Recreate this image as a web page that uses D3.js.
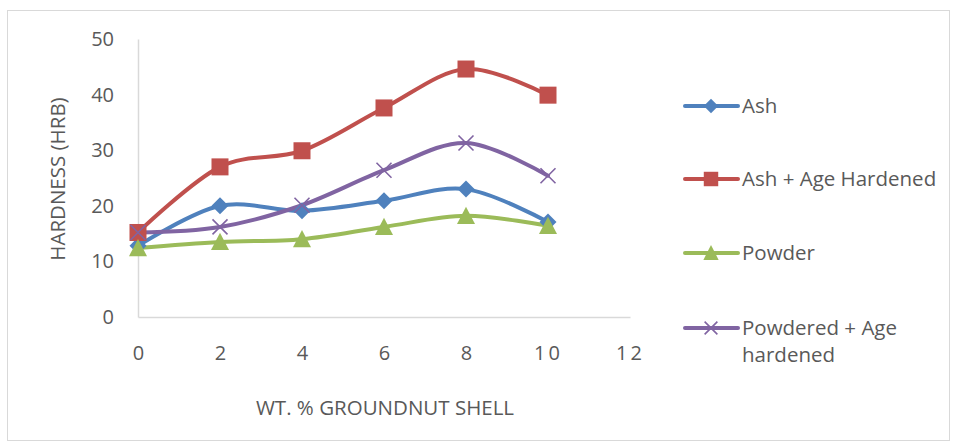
<!DOCTYPE html>
<html>
<head>
<meta charset="utf-8">
<script src="https://cdn.jsdelivr.net/npm/d3@7"></script>
<style>
  html, body { margin: 0; padding: 0; background: #fff; }
  svg { display: block; }
  text { font-family: "Open Sans", "Noto Sans", sans-serif; fill: #595959; }
</style>
</head>
<body>
<svg id="chart" width="956" height="445"></svg>
<script>
// Groundnut shell content (wt. %) and measured hardness (HRB)
const wtPercent = [0, 2, 4, 6, 8, 10];
const ash = [12.8, 20.0, 19.1, 20.9, 23.0, 17.1];
const ashAgeHardened = [15.2, 27.0, 29.9, 37.6, 44.6, 39.9];
const powder = [12.4, 13.5, 14.0, 16.2, 18.2, 16.4];
const powderedAgeHardened = [15.2, 16.2, 20.1, 26.4, 31.3, 25.4];
const xTicks = [0, 2, 4, 6, 8, 10, 12];
const yTicks = [0, 10, 20, 30, 40, 50];
const seriesNames = ["Ash", "Ash + Age Hardened", "Powder", "Powdered + Age hardened"];

const series = [
  { name: seriesNames[0], values: ash, color: "#4F81BD", marker: "diamond" },
  { name: seriesNames[1], values: ashAgeHardened, color: "#C0504D", marker: "square" },
  { name: seriesNames[2], values: powder, color: "#9BBB59", marker: "triangle" },
  { name: seriesNames[3], values: powderedAgeHardened, color: "#8064A2", marker: "cross" }
];

const svg = d3.select("#chart");

// chart frame
svg.append("rect")
  .attr("x", 7.5).attr("y", 10.5).attr("width", 942).attr("height", 430)
  .attr("fill", "#fff").attr("stroke", "#d9d9d9").attr("stroke-width", 1);

const x = d3.scaleLinear().domain([0, 12]).range([138, 630]);
const y = d3.scaleLinear().domain([0, 50]).range([317, 39]);

// axes (lines only, labels drawn from tick arrays)
const yAxis = d3.axisLeft(y).tickValues(yTicks).tickSize(0).tickPadding(24).tickFormat(d3.format("d"));
const gy = svg.append("g").attr("transform", `translate(${x(0)},0)`).call(yAxis);
gy.select(".domain").attr("stroke", "#d9d9d9").attr("stroke-width", 1.5);
gy.selectAll("text").attr("font-size", 20).attr("fill", "#595959")
  .style("font-family", "'Open Sans', sans-serif");

const xAxis = d3.axisBottom(x).tickValues(xTicks).tickSize(0).tickPadding(29).tickFormat(d3.format("d"));
const gx = svg.append("g").attr("transform", `translate(0,${y(0)})`).call(xAxis);
gx.select(".domain").attr("stroke", "#d9d9d9").attr("stroke-width", 1.5);
gx.selectAll("text").attr("font-size", 20).attr("fill", "#595959")
  .attr("letter-spacing", d => d >= 10 ? 3 : 0)
  .style("font-family", "'Open Sans', sans-serif");

// axis titles
svg.append("text")
  .attr("transform", `translate(65,179) rotate(-90)`)
  .attr("text-anchor", "middle").attr("font-size", 20.5)
  .text("HARDNESS (HRB)");
svg.append("text")
  .attr("x", 385).attr("y", 415)
  .attr("text-anchor", "middle").attr("font-size", 20.5)
  .text("WT. % GROUNDNUT SHELL");

const line = d3.line()
  .x((d, i) => x(wtPercent[i]))
  .y(d => y(d))
  .curve(d3.curveCardinal.tension(0));

function drawMarker(g, type, color, size) {
  if (type === "diamond") {
    const s = size / 2;
    g.append("path").attr("d", `M0,${-s}L${s},0L0,${s}L${-s},0Z`).attr("fill", color);
  } else if (type === "square") {
    g.append("rect").attr("x", -size / 2).attr("y", -size / 2)
      .attr("width", size).attr("height", size).attr("fill", color);
  } else if (type === "triangle") {
    const h = size * 0.9;
    g.append("path").attr("d", `M0,${-h / 2 - 1}L${size / 2},${h / 2}L${-size / 2},${h / 2}Z`)
      .attr("fill", color);
  } else if (type === "cross") {
    const s = size / 2;
    g.append("path").attr("d", `M${-s},${-s}L${s},${s}M${-s},${s}L${s},${-s}`)
      .attr("stroke", color).attr("stroke-width", 1.6).attr("fill", "none");
  }
}

const markerSize = { diamond: 17, square: 17, triangle: 18, cross: 15 };

series.forEach(s => {
  svg.append("path")
    .datum(s.values)
    .attr("d", line)
    .attr("fill", "none")
    .attr("stroke", s.color)
    .attr("stroke-width", 4)
    .attr("stroke-linejoin", "round")
    .attr("stroke-linecap", "round");
});

series.forEach(s => {
  s.values.forEach((v, i) => {
    const g = svg.append("g").attr("transform", `translate(${x(wtPercent[i])},${y(v)})`);
    drawMarker(g, s.marker, s.color, markerSize[s.marker]);
  });
});

// legend
const legendY = [106, 179, 253, 328];
series.forEach((s, i) => {
  const g = svg.append("g").attr("transform", `translate(0,${legendY[i]})`);
  g.append("line").attr("x1", 685).attr("x2", 738).attr("y1", 0).attr("y2", 0)
    .attr("stroke", s.color).attr("stroke-width", 4).attr("stroke-linecap", "round");
  const mg = g.append("g").attr("transform", "translate(711,0)");
  drawMarker(mg, s.marker, s.color, markerSize[s.marker] * 0.85);
  const t = g.append("text").attr("x", 742).attr("y", 7).attr("font-size", 20.5);
  if (s.name === "Powdered + Age hardened") {
    t.append("tspan").attr("x", 742).text("Powdered + Age");
    t.append("tspan").attr("x", 742).attr("dy", 27).text("hardened");
  } else {
    t.text(s.name);
  }
});
</script>
</body>
</html>
